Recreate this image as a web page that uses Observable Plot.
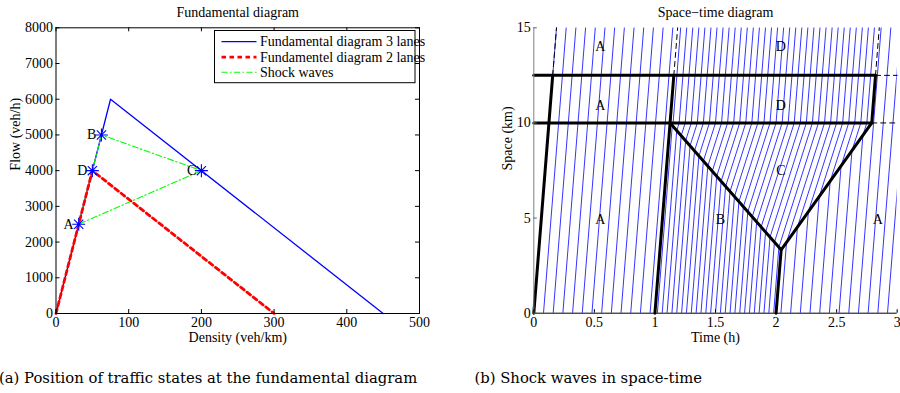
<!DOCTYPE html>
<html><head><meta charset="utf-8">
<script src="https://cdn.jsdelivr.net/npm/d3@7"></script>
<script src="https://cdn.jsdelivr.net/npm/@observablehq/plot@0.6"></script>
<style>
body{margin:0;background:#fff;}
#wrap{position:relative;width:900px;height:393px;overflow:hidden;background:#fff;}
#left,#right{position:absolute;top:0;}
#left{left:0;} #right{left:450px;}
#cap{position:absolute;left:0;top:350px;}
</style></head><body><div id="wrap"><div id="left"></div><div id="right"></div><svg id="cap" width="900" height="43"></svg></div>
<script>
// ---------------- data: fundamental diagram ----------------
const fd3Density = [0, 75, 450];
const fd3Flow = [0, 6000, 0];
const fd2Density = [0, 50, 300];
const fd2Flow = [0, 4000, 0];
const stateNames = ["A", "D", "B", "C"];
const stateDensity = [31.25, 50, 62.5, 200];
const stateFlow = [2500, 4000, 5000, 4000];
const shockPathStates = ["A", "B", "C", "A"];
const densityTicks = [0, 100, 200, 300, 400, 500];
const flowTicks = [0, 1000, 2000, 3000, 4000, 5000, 6000, 7000, 8000];
const legendLabels = ["Fundamental diagram 3 lanes", "Fundamentel diagram 2 lanes", "Shock waves"];

// ---------------- data: space-time diagram ----------------
const timeTicks = [0, 0.5, 1, 1.5, 2, 2.5, 3];
const spaceTicks = [0, 5, 10, 15];
const bottleneckX = 10;
const spaceMax = 15;
const congestionT = [1.125, 2.042, 2.79];   // corners of congestion region C
const congestionX = [10, 3.33, 10];
const shockLinesT = [[0, 0.156], [1, 1.125, 1.156], [2, 2.042, 2.79, 2.821], [1.125, 2.042], [0, 2.79], [0, 2.821]];
const shockLinesX = [[0, 12.5], [0, 10, 12.5], [0, 3.33, 10, 12.5], [10, 3.33], [10, 10], [12.5, 12.5]];
const dashedLinesT = [[0.156, 0.1875], [1.156, 1.1875], [2.821, 2.852], [2.79, 3], [2.821, 3]];
const dashedLinesX = [[12.5, 15], [12.5, 15], [12.5, 15], [10, 10], [12.5, 12.5]];
const departureTimes = [
  0, 0.08, 0.16, 0.24, 0.32, 0.40, 0.48, 0.56, 0.64, 0.72, 0.80, 0.88, 0.96,
  1.02, 1.06, 1.10, 1.14, 1.18, 1.22, 1.26, 1.30, 1.34, 1.38, 1.42, 1.46, 1.50,
  1.54, 1.58, 1.62, 1.66, 1.70, 1.74, 1.78, 1.82, 1.86, 1.90, 1.94, 1.98,
  2.04, 2.12, 2.20, 2.28, 2.36, 2.44, 2.52, 2.60, 2.68, 2.76, 2.84, 2.92, 3.00
];
const regionNames = ["A", "D", "A", "D", "C", "A", "B", "A"];
const regionT = [0.55, 2.04, 0.55, 2.04, 2.04, 0.55, 1.54, 2.84];
const regionX = [14, 14, 10.9, 10.9, 7.5, 4.9, 4.9, 4.9];
const captions = ["(a) Position of traffic states at the fundamental diagram", "(b) Shock waves in space-time"];

// ---------------- helpers ----------------
const FONT = "'Liberation Serif', 'Times New Roman', serif";
const CAPFONT = "'DejaVu Serif', serif";
const FS = "14px";
const BLUE = "#0000ff", RED = "#ff0000", GREEN = "#00ff00";

const fd3 = fd3Density.map((k, i) => ({k, q: fd3Flow[i]}));
const fd2 = fd2Density.map((k, i) => ({k, q: fd2Flow[i]}));
const states = stateNames.map((name, i) => ({name, k: stateDensity[i], q: stateFlow[i]}));
const shockPath = shockPathStates.map(n => states.find(s => s.name === n));

const asterisk8 = {
  draw(ctx, size) {
    const r = Math.sqrt(size / Math.PI), d = r * Math.SQRT1_2;
    ctx.moveTo(-r, 0); ctx.lineTo(r, 0);
    ctx.moveTo(0, -r); ctx.lineTo(0, r);
    ctx.moveTo(-d, -d); ctx.lineTo(d, d);
    ctx.moveTo(-d, d); ctx.lineTo(d, -d);
  }
};

// ---------------- left panel ----------------
const LW = 450, LH = 350, LML = 55.5, LMR = 31, LMT = 27.3, LMB = 37;
const lfw = LW - LML - LMR, lfh = LH - LMT - LMB;
const left = Plot.plot({
  width: LW, height: LH,
  marginLeft: LML, marginRight: LMR, marginTop: LMT, marginBottom: LMB,
  style: {fontFamily: FONT, fontSize: FS, background: "white", color: "black", overflow: "visible"},
  x: {domain: [0, 500], axis: null},
  y: {domain: [0, 8000], axis: null},
  marks: [
    Plot.line(fd3, {x: "k", y: "q", stroke: BLUE, strokeWidth: 1.3}),
    Plot.line(shockPath, {x: "k", y: "q", stroke: GREEN, strokeWidth: 1.1, strokeDasharray: "6,2.5,1.5,2.5"}),
    Plot.line(fd2, {x: "k", y: "q", stroke: RED, strokeWidth: 2.8, strokeDasharray: "4.5,3.5"}),
    Plot.dot(states, {x: "k", y: "q", symbol: asterisk8, r: 6.5, stroke: BLUE, fill: "none", strokeWidth: 1.1}),
    Plot.text(states, {x: "k", y: "q", text: "name", textAnchor: "end", dx: -5, fill: "black"}),
    Plot.ruleX(densityTicks, {x: d => d, insetTop: lfh - 4, stroke: "black"}),
    Plot.ruleX(densityTicks, {x: d => d, insetBottom: lfh - 4, stroke: "black"}),
    Plot.ruleY(flowTicks, {y: d => d, insetRight: lfw - 4, stroke: "black"}),
    Plot.ruleY(flowTicks, {y: d => d, insetLeft: lfw - 4, stroke: "black"}),
    Plot.frame({stroke: "black", strokeWidth: 1}),
    Plot.text(densityTicks, {x: d => d, frameAnchor: "bottom", lineAnchor: "top", dy: 4, text: d => String(d), fill: "black"}),
    Plot.text(flowTicks, {y: d => d, frameAnchor: "left", textAnchor: "end", dx: -3, text: d => String(d), fill: "black"}),
    Plot.text(["Fundamental diagram"], {frameAnchor: "top", lineAnchor: "bottom", dy: -10.7, text: d => d, fill: "black"}),
    Plot.text(["Density (veh/km)"], {frameAnchor: "bottom", lineAnchor: "bottom", dy: 28.5, text: d => d, fill: "black"}),
    Plot.text(["Flow (veh/h)"], {frameAnchor: "left", rotate: -90, lineAnchor: "bottom", dx: -36, text: d => d, fill: "black"})
  ]
});
document.getElementById("left").appendChild(left);

// legend
{
  const g = d3.select(left).append("g").attr("font-family", FONT).attr("font-size", FS).attr("text-anchor", "start");
  g.append("rect").attr("x", 214.5).attr("y", 30.5).attr("width", 200.5).attr("height", 52.2)
    .attr("fill", "white").attr("stroke", "black").attr("stroke-width", 1);
  const colors = [BLUE, RED, GREEN];
  const widths = [1.3, 2.8, 1.1];
  const dashes = [null, "4.5,3.5", "6,2.5,1.5,2.5"];
  const rowsY = [41.7, 57.2, 72.3];
  legendLabels.forEach((lab, i) => {
    const l = g.append("line").attr("x1", 221.5).attr("x2", 256.5).attr("y1", rowsY[i]).attr("y2", rowsY[i])
      .attr("stroke", colors[i]).attr("stroke-width", widths[i]);
    if (dashes[i]) l.attr("stroke-dasharray", dashes[i]);
    g.append("text").attr("x", 260).attr("y", rowsY[i] + 4.6).attr("text-anchor", "start").attr("fill", "black").text(lab);
  });
}

// ---------------- right panel ----------------
const vFree = stateFlow[0] / stateDensity[0];   // speed in A (= B, D)
const vCong = stateFlow[3] / stateDensity[3];   // speed in C
function trajectory(t0) {
  const pts = [[t0, 0]];
  let entry = null;
  for (let i = 0; i < congestionT.length - 1 && !entry; i++) {
    const ta = congestionT[i], xa = congestionX[i], tb = congestionT[i + 1], xb = congestionX[i + 1];
    const s = (xa - vFree * (ta - t0)) / (vFree * (tb - ta) - (xb - xa));
    if (s >= 0 && s <= 1) entry = [ta + s * (tb - ta), xa + s * (xb - xa)];
  }
  if (entry) {
    const tExit = entry[0] + (bottleneckX - entry[1]) / vCong;
    pts.push(entry, [tExit, bottleneckX], [tExit + (spaceMax - bottleneckX) / vFree, spaceMax]);
  } else {
    pts.push([t0 + spaceMax / vFree, spaceMax]);
  }
  return pts;
}
const trajRows = departureTimes.flatMap((t0, id) => trajectory(t0).map(([t, x]) => ({id, t, x})));
const shockRows = shockLinesT.flatMap((ts, id) => ts.map((t, j) => ({id, t, x: shockLinesX[id][j]})));
const dashRows = dashedLinesT.flatMap((ts, id) => ts.map((t, j) => ({id, t, x: dashedLinesX[id][j]})));
const regions = regionNames.map((name, i) => ({name, t: regionT[i], x: regionX[i]}));

const RW = 450, RH = 350, RML = 83.3, RMR = 3.3, RMT = 27.3, RMB = 37.3;
const rfw = RW - RML - RMR, rfh = RH - RMT - RMB;
const right = Plot.plot({
  width: RW, height: RH,
  marginLeft: RML, marginRight: RMR, marginTop: RMT, marginBottom: RMB,
  style: {fontFamily: FONT, fontSize: FS, background: "white", color: "black", overflow: "visible"},
  x: {domain: [0, 3], axis: null},
  y: {domain: [0, 15], axis: null},
  marks: [
    Plot.line(trajRows, {x: "t", y: "x", z: "id", stroke: BLUE, strokeWidth: 0.8, clip: true}),
    Plot.line(dashRows, {x: "t", y: "x", z: "id", stroke: "black", strokeWidth: 1, strokeDasharray: "5,4"}),
    Plot.line(shockRows, {x: "t", y: "x", z: "id", stroke: "black", strokeWidth: 3, strokeLinejoin: "miter"}),
    Plot.text(regions, {x: "t", y: "x", text: "name", fill: "black"}),
    Plot.ruleY([0], {stroke: "black", strokeWidth: 1}),
    Plot.ruleX([0], {stroke: "#808080", strokeWidth: 1}),
    Plot.ruleX(timeTicks, {x: d => d, insetTop: rfh - 3.5, stroke: "black"}),
    Plot.ruleY(spaceTicks, {y: d => d, insetRight: rfw - 3.5, stroke: "#606060"}),
    Plot.text(timeTicks, {x: d => d, frameAnchor: "bottom", lineAnchor: "top", dy: 4, text: d => String(d), fill: "black"}),
    Plot.text(spaceTicks, {y: d => d, frameAnchor: "left", textAnchor: "end", dx: -3, text: d => String(d), fill: "black"}),
    Plot.text(["Space\u2212time diagram"], {frameAnchor: "top", lineAnchor: "bottom", dy: -10.7, text: d => d, fill: "black"}),
    Plot.text(["Time (h)"], {frameAnchor: "bottom", lineAnchor: "bottom", dy: 28.5, text: d => d, fill: "black"}),
    Plot.text(["Space (km)"], {frameAnchor: "left", rotate: -90, lineAnchor: "bottom", dx: -21.5, text: d => d, fill: "black"})
  ]
});
document.getElementById("right").appendChild(right);

// captions
{
  const cap = d3.select("#cap").attr("font-family", CAPFONT).attr("font-size", "14.8px");
  const capX = [-1, 474.5];
  captions.forEach((c, i) => cap.append("text").attr("x", capX[i]).attr("y", 33).attr("fill", "black").text(c));
}
</script></body></html>
